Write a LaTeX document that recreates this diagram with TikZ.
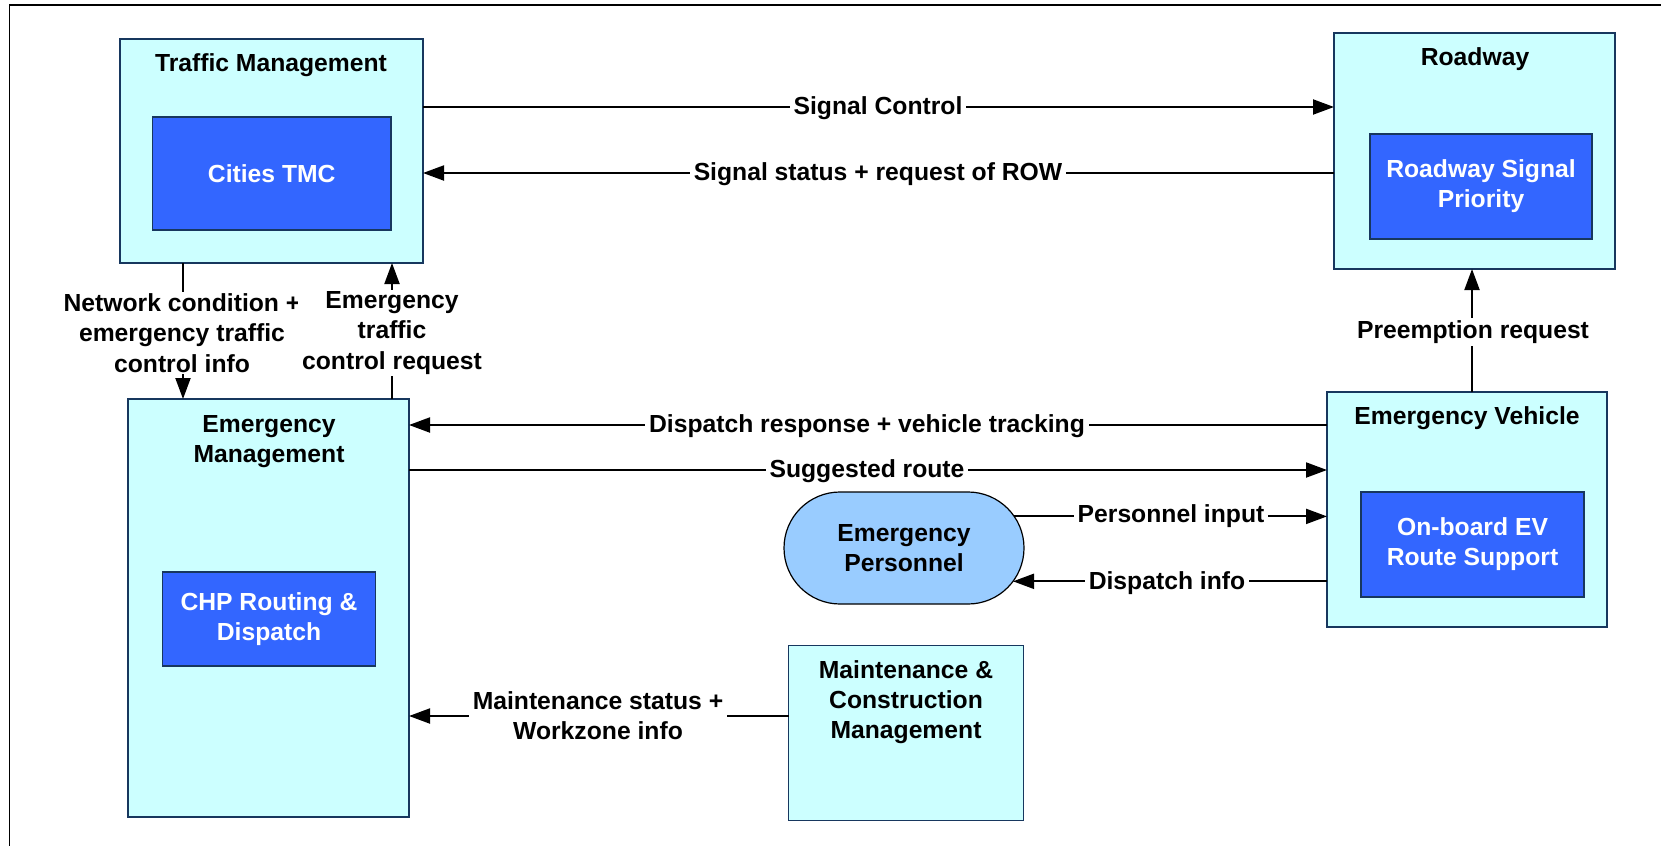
\documentclass[tikz,border=0pt]{standalone}
\usepackage{fontspec}
\setmainfont{Liberation Sans}
\usetikzlibrary{arrows.meta,shapes.misc}
\definecolor{boxfill}{RGB}{204,255,255}
\definecolor{innerfill}{RGB}{51,102,255}
\definecolor{boxline}{RGB}{23,55,94}
\definecolor{persfill}{RGB}{153,204,255}
\begin{document}
\begin{tikzpicture}[x=1pt,y=-1pt,
  every node/.style={font=\fontsize{24.7}{30.2}\selectfont\bfseries, inner sep=0pt, outer sep=0pt},
  outerbox/.style={draw=boxline, fill=boxfill, line width=1.3pt},
  innerbox/.style={draw=boxline, fill=innerfill, line width=1.3pt, text=white, align=center},
  persbox/.style={rounded rectangle, draw=black, fill=persfill, line width=1.2pt, align=center},
  title/.style={align=center},
  conn/.style={line width=2pt, -{Triangle[length=21pt,width=15pt]}},
  lab/.style={fill=white, inner xsep=4pt, inner ysep=2pt, align=center}]
\useasboundingbox (0,0) rectangle (1661,846);
\fill[white] (0,0) rectangle (1661,846);
% frame
\draw[line width=1.6pt] (1661,5) -- (9.6,5) -- (9.6,846);

% boxes
\node[outerbox, minimum width=303pt, minimum height=224pt] (TM) at (271.5,151) {};
\node[innerbox, minimum width=238.5pt, minimum height=113pt] (TMC) at (271.75,173.5) {Cities TMC};
\node[title] (TMt) at (271,65) {Traffic Management};

\node[outerbox, minimum width=281pt, minimum height=236pt] (RW) at (1474.5,151) {};
\node[innerbox, minimum width=222pt, minimum height=105pt] (RSP) at (1481,186.5) {Roadway Signal\\Priority};
\node[title] (RWt) at (1475,59) {Roadway};

\node[outerbox, minimum width=281pt, minimum height=418pt] (EM) at (268.5,608) {};
\node[innerbox, minimum width=213pt, minimum height=94pt] (CHP) at (269,619) {CHP Routing \&\\Dispatch};
\node[title] (EMt) at (269,442) {Emergency\\Management};

\node[outerbox, minimum width=280pt, minimum height=235pt] (EV) at (1467,509.5) {};
\node[innerbox, minimum width=223pt, minimum height=105pt] (OB) at (1472.5,544.5) {On-board EV\\Route Support};
\node[title] (EVt) at (1467,418) {Emergency Vehicle};

\node[outerbox, minimum width=235pt, minimum height=175pt] (MC) at (906,733) {};
\node[title] (MCt) at (906,702) {Maintenance \&\\Construction\\Management};

\node[persbox, minimum width=240pt, minimum height=112pt] (EP) at (904,548) {Emergency\\Personnel};

% connectors
\coordinate (c1) at (878,107);
\draw[conn] (TM.east |- c1) -- (RW.west |- c1);
\node[lab] (l1) at (878,108) {Signal Control};

\coordinate (c2) at (878,173);
\draw[conn] (RW.west |- c2) -- (TM.east |- c2);
\node[lab] (l2) at (878,174) {Signal status + request of ROW};

\coordinate (c3) at (183,333);
\draw[conn] (TM.south -| c3) -- (EM.north -| c3);
\node[lab] (l3) at (182,333) {Network condition +\\emergency traffic\\control info};

\coordinate (c4) at (392,333);
\draw[conn] (EM.north -| c4) -- (TM.south -| c4);
\node[lab] (l4) at (c4) {Emergency\\traffic\\control request};

\coordinate (c5) at (1472,332);
\draw[conn] (EV.north -| c5) -- (RW.south -| c5);
\node[lab] (l5) at (1473,332) {Preemption request};

\coordinate (c6) at (867,425);
\draw[conn] (EV.west |- c6) -- (EM.east |- c6);
\node[lab] (l6) at (867,426.5) {Dispatch response + vehicle tracking};

\coordinate (c7) at (867,470);
\draw[conn] (EM.east |- c7) -- (EV.west |- c7);
\node[lab] (l7) at (867,471) {Suggested route};

\coordinate (c8) at (1171,516);
\draw[conn] (EP.16.8) -- (EV.west |- EP.16.8);
\node[lab] (l8) at (c8) {Personnel input};

\coordinate (c9) at (1167,583);
\draw[conn] (EV.west |- EP.-17.3) -- (EP.-17.3);
\node[lab] (l9) at (c9) {Dispatch info};

\coordinate (c10) at (598,716);
\draw[conn] (MC.west |- c10) -- (EM.east |- c10);
\node[lab] (l10) at (598,715.5) {Maintenance status +\\Workzone info};
\end{tikzpicture}
\end{document}
